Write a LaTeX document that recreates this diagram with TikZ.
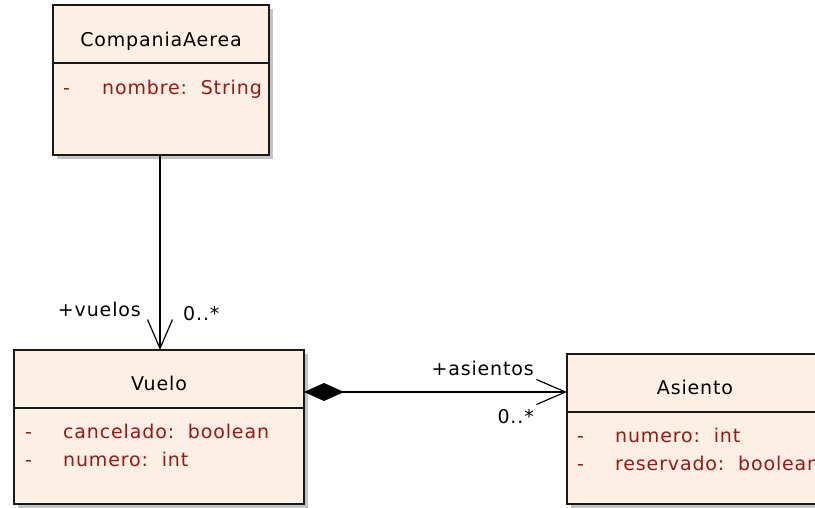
\documentclass[tikz,border=0pt]{standalone}
\usepackage{fontspec}
\setmainfont{DejaVu Sans}
\newfontfamily\umlfont[LetterSpace=4.5]{DejaVu Sans}
\usetikzlibrary{arrows.meta,shadows}
\definecolor{clsfill}{RGB}{251,240,227}
\definecolor{attrred}{RGB}{160,20,20}
\definecolor{shadowgray}{RGB}{195,195,195}
\begin{document}
\begin{tikzpicture}[x=1pt,y=-1pt,
  cls/.style={draw=black!90, line width=1.6pt, fill=clsfill, anchor=north west,
    inner sep=0pt, outer sep=0pt,
    general shadow={fill=shadowgray, shadow xshift=4pt, shadow yshift=-4pt}},
  ctitle/.style={font=\umlfont\fontsize{19}{22}\selectfont, text=black, anchor=base, inner sep=0pt},
  cattr/.style={font=\umlfont\fontsize{19}{22}\selectfont, text=attrred, anchor=base west, inner sep=0pt},
  rolelbl/.style={font=\umlfont\fontsize{19}{22}\selectfont, text=black, inner sep=0pt},
  conn/.style={line width=1.3pt, draw=black},
  openarrow/.style={-{Straight Barb[length=29pt, width=25pt, line width=1.2pt]}},
]
\useasboundingbox (0,0) rectangle (815,507);
\begin{scope}
\clip (0,0) rectangle (815,507);
% classes
\node[cls, minimum width=216pt, minimum height=150pt] (comp) at (53,5) {};
\node[cls, minimum width=290pt, minimum height=154pt] (vuelo) at (14,350) {};
\node[cls, minimum width=270pt, minimum height=150pt] (asiento) at (567,354) {};
% dividers
\draw[line width=1.6pt, black!90] (53,63) coordinate (cd1) -- (269,63) coordinate (cd2);
\draw[line width=1.6pt, black!90] (14,408) coordinate (vd1) -- (304,408) coordinate (vd2);
\draw[line width=1.6pt, black!90] (567,412) coordinate (ad1) -- (837,412) coordinate (ad2);
\end{scope}
% titles
\node[ctitle] (compt) at (161,46) {CompaniaAerea};
\node[ctitle] (vuelot) at (159,390) {Vuelo};
\node[ctitle] (asientot) at (695,394) {Asiento};
% attributes
\node[cattr] (c1d) at (63,94) {-};
\node[cattr] (c1) at (102,94) {nombre:\ \ String};
\node[cattr] (v1d) at (25,438) {-};
\node[cattr] (v1) at (63,438) {cancelado:\ \ boolean};
\node[cattr] (v2d) at (25,466) {-};
\node[cattr] (v2) at (63,466) {numero:\ \ int};
\node[cattr] (a1d) at (577,442) {-};
\node[cattr] (a1) at (615,442) {numero:\ \ int};
\node[cattr] (a2d) at (577,470) {-};
\node[cattr] (a2) at (615,470) {reservado:\ \ boolean};
% connectors
\draw[conn, openarrow] (comp.south -| 160,0) -- (vuelo.north -| 160,0);
\draw[conn, {Diamond[length=40pt, width=18pt]}-{Straight Barb[length=29pt, width=25pt, line width=1.2pt]}]
  (vuelo.east |- 0,392) -- (asiento.west |- 0,392);
% role labels
\node[rolelbl, anchor=base east] (vlbl) at (141,316) {+vuelos};
\node[rolelbl, anchor=base west] (vmul) at (183,320) {0..*};
\node[rolelbl, anchor=base east] (albl) at (534,375) {+asientos};
\node[rolelbl, anchor=base east] (amul) at (534,423) {0..*};
\end{tikzpicture}
\end{document}
